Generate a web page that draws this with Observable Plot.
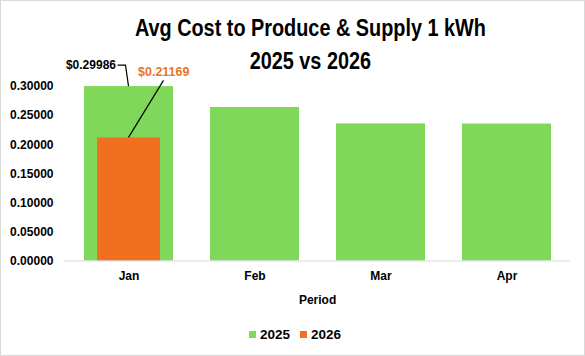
<!DOCTYPE html>
<html>
<head>
<meta charset="utf-8">
<script src="https://cdn.jsdelivr.net/npm/d3@7"></script>
<script src="https://cdn.jsdelivr.net/npm/@observablehq/plot@0.6"></script>
<style>
  html, body { margin: 0; padding: 0; background: #fff; }
  #wrap { position: relative; width: 585px; height: 356px; overflow: hidden; font-family: "Liberation Sans", Arial, sans-serif; }
  #frame { position: absolute; left: 0; top: 0; width: 585px; height: 356px; box-sizing: border-box; border: 1px solid #d9d9d9; pointer-events: none; }
  #title { position: absolute; left: 35px; width: 550px; top: 12px; text-align: center; font-family: "Liberation Sans", Arial, sans-serif; font-weight: bold; font-size: 23px; line-height: 33px; color: #000; }
  #title div { white-space: nowrap; }
  #title span { display: inline-block; transform-origin: 50% 50%; }
  #legend { position: absolute; left: 249px; top: 327px; display: flex; align-items: center; font-weight: bold; font-size: 13.5px; color: #000; }
  #legend .sw { width: 7px; height: 7px; display: inline-block; margin-right: 4px; }
  #legend .item { display: flex; align-items: center; margin-right: 10px; }
  #chart { position: absolute; left: 0; top: 0; }
</style>
</head>
<body>
<div id="wrap">
  <div id="chart"></div>
  <div id="title"></div>
  <div id="legend"></div>
  <div id="frame"></div>
</div>
<script>
// ---- data ----
const titleLines = ["Avg Cost to Produce & Supply 1 kWh", "2025 vs 2026"];
const months = ["Jan", "Feb", "Mar", "Apr"];
const cost2025 = [0.29986, 0.2639, 0.2357, 0.2355];
const months2026 = ["Jan"];
const cost2026 = [0.21169];
const yTicks = [0, 0.05, 0.10, 0.15, 0.20, 0.25, 0.30];
const seriesNames = ["2025", "2026"];
const seriesColors = ["#80d85a", "#f26f21"];
const labelText2025 = ["$0.29986"];
const labelText2026 = ["$0.21169"];
const xTitle = "Period";

const d2025 = months.map((m, i) => ({month: m, value: cost2025[i]}));
const d2026 = months2026.map((m, i) => ({month: m, value: cost2026[i]}));
const lab2025 = [{month: "Jan", value: cost2025[0], text: labelText2025[0]}];
const lab2026 = [{month: "Jan", value: cost2026[0], text: labelText2026[0]}];

const chart = Plot.plot({
  width: 585,
  height: 356,
  marginTop: 86,
  marginBottom: 95.5,
  marginLeft: 64.5,
  marginRight: 15.3,
  style: {fontFamily: "'Liberation Sans', Arial, sans-serif", fontSize: "12px", fontWeight: "bold", color: "#000", background: "transparent", overflow: "visible"},
  x: {domain: months, paddingInner: 0.295, paddingOuter: 0.1475, tickSize: 0, tickPadding: 10, label: xTitle, labelAnchor: "center", labelOffset: 43},
  y: {domain: [0, 0.3], ticks: yTicks, tickFormat: d => d.toFixed(5), tickSize: 0, tickPadding: 11.5, label: null},
  marks: [
    Plot.barY(d2025, {x: "month", y: "value", fill: seriesColors[0]}),
    Plot.barY(d2026, {x: "month", y: "value", fill: seriesColors[1], insetLeft: 13, insetRight: 13}),
    Plot.ruleY([0], {stroke: "#d9d9d9", strokeWidth: 1}),
    Plot.text(lab2025, {x: "month", y: "value", text: "text", dx: -13, dy: -21, textAnchor: "end", fill: "#000", fontSize: 12}),
    Plot.text(lab2026, {x: "month", y: "value", text: "text", dx: 9, dy: -66, textAnchor: "start", fill: "#ee7326", fontSize: 12.5})
  ]
});
document.getElementById("chart").appendChild(chart);

// leader lines, anchored through the chart's own scales
const xs = chart.scale("x"), ys = chart.scale("y");
const cx = m => xs.apply(m) + xs.bandwidth / 2;
const svg = d3.select(chart);
const g = svg.append("g").attr("fill", "none").attr("stroke", "#000").attr("stroke-width", 1.2);
{
  const px = cx(lab2025[0].month), py = ys.apply(lab2025[0].value);
  g.append("path").attr("d", `M${px - 11},${py - 21}H${px - 3}L${px},${py}`);
}
{
  const px = cx(lab2026[0].month), py = ys.apply(lab2026[0].value);
  g.append("path").attr("d", `M${px + 35},${py - 57}L${px},${py}`);
}

// title: condensed to the reference width
const title = d3.select("#title");
const spans = titleLines.map(t => title.append("div").append("span").text(t));
const w0 = spans[0].node().getBoundingClientRect().width;
const sx = 351 / w0;
spans.forEach(s => s.style("transform", `scaleX(${sx})`));

// legend
const legend = d3.select("#legend");
seriesNames.forEach((n, i) => {
  const it = legend.append("div").attr("class", "item");
  it.append("span").attr("class", "sw").style("background", seriesColors[i]);
  it.append("span").text(n);
});
</script>
</body>
</html>
